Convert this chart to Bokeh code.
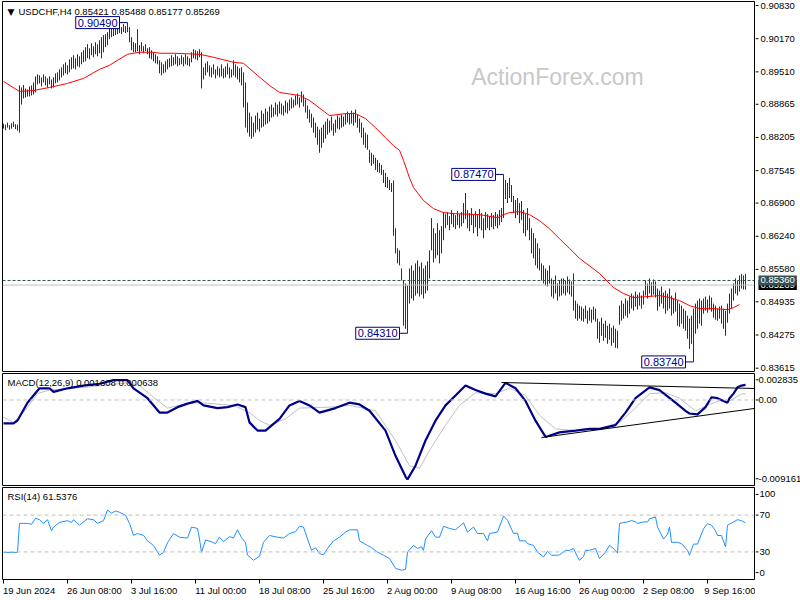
from bokeh.plotting import figure
from bokeh.models import Range1d, FixedTicker, Label, Span, ColumnDataSource
from bokeh.layouts import column, row
from bokeh.core.properties import value
from bokeh.embed import file_html
from bokeh.resources import INLINE

# ---------------- data (USDCHF H4, one entry per bar) ----------------
BAR_HIGH = [
    .8848, .8846, .8850, .8845, .8849, .8852, .8847, .8846, .8924, .8920,
    .8925, .8918, .8916, .8922, .8924, .8930, .8942, .8946, .8944, .8940,
    .8946, .8942, .8938, .8942, .8936, .8940, .8948, .8950, .8956, .8960,
    .8966, .8970, .8964, .8976, .8980, .8984, .8978, .8986, .8982, .8990,
    .8994, .9000, .9006, .8998, .9008, .9002, .9010, .9006, .9014, .9020,
    .9024, .9026, .9030, .9040, .9044, .9038, .9046, .9042, .9044, .9040,
    .9046, .9042, .9049, .9040, .9020, .9010, .9008, .9036, .9004, .9010,
    .9002, .9006, .8998, .9000, .8994, .8990, .8986, .8982, .8974, .8970,
    .8966, .8972, .8976, .8978, .8984, .8980, .8986, .8982, .8978, .8984,
    .8980, .8986, .8982, .8978, .8990, .8996, .8994, .8992, .8996, .8990,
    .8960, .8968, .8972, .8964, .8960, .8966, .8956, .8962, .8958, .8966,
    .8958, .8962, .8968, .8960, .8956, .8974, .8966, .8962, .8958, .8960,
    .8950, .8930, .8890, .8870, .8862, .8850, .8864, .8870, .8858, .8874,
    .8868, .8878, .8872, .8882, .8886, .8880, .8890, .8886, .8892, .8888,
    .8884, .8894, .8890, .8896, .8900, .8896, .8904, .8908, .8900, .8912,
    .8906, .8896, .8884, .8876, .8868, .8860, .8850, .8842, .8836, .8840,
    .8846, .8852, .8858, .8854, .8862, .8848, .8856, .8864, .8860, .8866,
    .8862, .8868, .8872, .8868, .8874, .8870, .8876, .8866, .8858, .8850,
    .8840, .8830, .8826, .8796, .8790, .8786, .8780, .8776, .8770, .8766,
    .8756, .8750, .8742, .8736, .8730, .8735, .8640, .8600, .8596, .8560,
    .8536, .8530, .8526, .8560, .8566, .8556, .8570, .8576, .8564, .8572,
    .8560, .8566, .8574, .8596, .8660, .8640, .8630, .8650, .8636, .8644,
    .8672, .8668, .8672, .8664, .8676, .8670, .8666, .8674, .8668, .8672,
    .8690, .8710, .8676, .8670, .8680, .8668, .8674, .8666, .8678, .8670,
    .8660, .8672, .8668, .8664, .8670, .8666, .8672, .8668, .8676, .8680,
    .8747, .8736, .8730, .8740, .8726, .8704, .8696, .8700, .8690, .8694,
    .8676, .8668, .8680, .8660, .8640, .8630, .8620, .8610, .8600, .8570,
    .8566, .8560, .8556, .8566, .8540, .8536, .8546, .8530, .8536, .8540,
    .8540, .8536, .8544, .8538, .8534, .8550, .8496, .8490, .8486, .8484,
    .8480, .8486, .8476, .8482, .8478, .8484, .8480, .8460, .8454, .8462,
    .8450, .8456, .8446, .8450, .8442, .8446, .8440, .8436, .8486, .8496,
    .8490, .8500, .8496, .8504, .8510, .8506, .8514, .8508, .8512, .8506,
    .8516, .8536, .8530, .8540, .8532, .8538, .8534, .8520, .8516, .8524,
    .8512, .8516, .8510, .8520, .8506, .8500, .8512, .8496, .8490, .8486,
    .8480, .8476, .8466, .8460, .8466, .8480, .8490, .8496, .8500, .8496,
    .8500, .8504, .8498, .8506, .8502, .8490, .8486, .8480, .8484, .8486,
    .8480, .8476, .8490, .8510, .8520, .8530, .8540, .8536, .8546, .85488,
    .8546, .85488,
]
BAR_LOW = [
    .8838, .8835, .8840, .8836, .8838, .8841, .8837, .8834, .8830, .8886,
    .8898, .8900, .8902, .8902, .8904, .8906, .8910, .8926, .8928, .8922,
    .8930, .8924, .8920, .8926, .8918, .8920, .8928, .8930, .8934, .8940,
    .8944, .8948, .8946, .8950, .8956, .8958, .8956, .8962, .8960, .8966,
    .8970, .8972, .8978, .8976, .8984, .8980, .8986, .8982, .8988, .8978,
    .8990, .9000, .9004, .9016, .9020, .9022, .9024, .9026, .9028, .9026,
    .9030, .9028, .9030, .9010, .8994, .8990, .8990, .8992, .8986, .8992,
    .8988, .8992, .8986, .8978, .8976, .8972, .8968, .8966, .8948, .8944,
    .8948, .8950, .8956, .8960, .8962, .8964, .8966, .8962, .8964, .8966,
    .8962, .8966, .8964, .8962, .8970, .8978, .8976, .8974, .8980, .8918,
    .8936, .8944, .8950, .8942, .8940, .8946, .8938, .8944, .8940, .8942,
    .8938, .8940, .8946, .8938, .8940, .8944, .8940, .8936, .8930, .8924,
    .8880, .8840, .8830, .8822, .8818, .8822, .8830, .8836, .8832, .8840,
    .8842, .8846, .8848, .8852, .8860, .8862, .8866, .8862, .8868, .8866,
    .8864, .8870, .8868, .8874, .8878, .8880, .8884, .8886, .8880, .8890,
    .8882, .8870, .8858, .8850, .8840, .8830, .8820, .8806, .8790, .8800,
    .8810, .8818, .8826, .8830, .8834, .8824, .8830, .8838, .8836, .8840,
    .8842, .8846, .8850, .8846, .8848, .8844, .8850, .8840, .8830, .8820,
    .8806, .8800, .8796, .8770, .8764, .8768, .8756, .8752, .8750, .8746,
    .8730, .8722, .8720, .8716, .8712, .8625, .8590, .8570, .8566, .8536,
    .8446, .8440, .8431, .8490, .8500, .8496, .8506, .8510, .8504, .8508,
    .8500, .8510, .8516, .8540, .8596, .8572, .8580, .8586, .8570, .8590,
    .8616, .8640, .8646, .8636, .8648, .8642, .8638, .8646, .8640, .8644,
    .8650, .8658, .8640, .8634, .8646, .8630, .8642, .8624, .8640, .8636,
    .8620, .8636, .8640, .8636, .8642, .8638, .8644, .8640, .8646, .8652,
    .8660, .8698, .8690, .8700, .8692, .8670, .8660, .8666, .8650, .8656,
    .8630, .8624, .8636, .8616, .8590, .8580, .8566, .8560, .8556, .8536,
    .8530, .8526, .8524, .8530, .8504, .8500, .8510, .8496, .8504, .8506,
    .8510, .8506, .8512, .8508, .8504, .8476, .8460, .8456, .8460, .8456,
    .8454, .8460, .8450, .8456, .8452, .8458, .8454, .8420, .8412, .8426,
    .8416, .8422, .8410, .8418, .8406, .8412, .8402, .8401, .8448, .8456,
    .8460, .8466, .8462, .8470, .8480, .8476, .8484, .8478, .8486, .8480,
    .8488, .8506, .8500, .8510, .8504, .8508, .8502, .8476, .8484, .8490,
    .8480, .8470, .8476, .8480, .8466, .8470, .8474, .8446, .8444, .8450,
    .8440, .8436, .8420, .8400, .8410, .8374, .8430, .8440, .8450, .8446,
    .8470, .8476, .8472, .8478, .8474, .8462, .8458, .8456, .8460, .8450,
    .8440, .8426, .8452, .8470, .8480, .8496, .8510, .8506, .8514, .8520,
    .8518, .85177,
]

# moving average (red) : (bar index, price)
MA_POINTS = [
    (0, .8932), (8, .8912), (15, .8914), (23, .8920), (32, .8928), (40, .8938),
    (48, .8956), (53, .8964), (57, .8974), (62, .8986), (68, .8990), (75, .8990),
    (78, .8988), (85, .8988), (98, .8986), (105, .8980), (115, .8970), (120, .8968),
    (127, .8944), (133, .8924), (138, .8910), (148, .8904), (153, .8894), (163, .8864),
    (171, .8868), (176, .8868), (181, .8858), (186, .8840), (191, .8820), (195, .8804),
    (198, .8795), (200, .8775), (203, .8740), (205, .8721), (210, .8695), (215, .8679),
    (220, .8671), (225, .8669), (238, .8667), (247, .8661), (250, .8667), (253, .8671),
    (258, .8673), (263, .8667), (268, .8655), (273, .8639), (278, .8619), (283, .8600),
    (288, .8580), (298, .8550), (305, .8522), (310, .8510), (315, .8502), (322, .8504),
    (328, .8506), (333, .8502), (338, .8496), (343, .8486), (348, .8480), (355, .8480),
    (362, .8478), (365, .8482), (368, .8488),
]

# MACD main line and signal, in units of 1e-4
MACD_POINTS = [
    (0, -25), (5, -25), (7, -22), (12, -3), (18, 12.5), (23, 12.5), (25, 8.7),
    (32, 12.5), (40, 15.4), (48, 17.4), (55, 21.2), (62, 21.2), (65, 12.5), (72, 1.9),
    (78, -13.5), (82, -13.5), (87, -7.7), (92, -3.9), (97, -1), (100, -5.8), (107, -8.7),
    (112, -7.7), (117, -4.8), (121, -7.7), (123, -24), (127, -32.8), (131, -32.8),
    (138, -20.3), (143, -5.8), (148, -1), (153, -5.8), (158, -13.5), (166, -8.7),
    (173, -2.9), (178, -4.8), (183, -11.6), (191, -32.8), (196, -59.8), (201, -82),
    (202, -85), (206, -70.4), (211, -43.4), (216, -22.2), (221, -5.8), (226, 4.8),
    (231, 15.4), (236, 10.6), (241, 6.8), (246, 3.9), (251, 18.3), (256, 12.5),
    (261, -1), (266, -22.2), (271, -39.6), (278, -34.7), (286, -32.8), (293, -30.9),
    (298, -30.9), (306, -27), (311, -13.5), (316, 1.9), (323, 13.5), (328, 10.6),
    (336, -2.9), (341, -11.6), (343, -14.5), (347, -15.4), (351, -7.7), (354, 2.9),
    (357, 1.9), (360, -1), (362, -2.9), (363, 1.9), (365, 6.8), (367, 13.5),
    (369, 15.4), (371, 16.1),
]
SIGNAL_POINTS = [
    (0, -18.3), (5, -24), (10, -13.5), (17, 6.8), (23, 10.6), (40, 13.5), (62, 18.3),
    (68, 15.4), (75, 2.9), (82, -8.7), (92, -3.9), (98, -2.9), (115, -5.8), (123, -13.5),
    (128, -22.2), (133, -27), (141, -20.3), (148, -8.7), (163, -7.7), (173, -5.8),
    (186, -11.6), (196, -43.4), (203, -70.4), (208, -73.3), (213, -54), (221, -27),
    (228, -5.8), (236, 7.7), (246, 6.8), (253, 12.5), (261, 4.8), (268, -16.4),
    (276, -30.9), (286, -32.8), (298, -30.9), (308, -24), (316, -8.7), (323, 6.8),
    (331, 7.7), (338, 1.9), (346, -11.6), (353, -4.8), (358, -1), (363, -1),
    (369, 6.4), (371, 6.4),
]
# MACD trend lines: start/end bar index and value (1e-4)
TREND_X0 = [249, 269]
TREND_Y0 = [18.7, -40.2]
TREND_X1 = [375.5, 375.5]
TREND_Y1 = [12.3, -9.1]

RSI_POINTS = [
    (0, 29.5), (7, 29.5), (8, 61), (10, 61), (12, 61), (14, 60), (16, 66.5), (18, 65),
    (20, 61), (22, 65), (24, 53), (25, 57), (28, 62), (32, 64), (34, 62), (35, 65),
    (38, 59), (42, 66), (45, 65), (47, 61), (50, 64), (52, 75.5), (54, 72), (56, 74.6),
    (58, 73), (61, 70), (63, 61), (65, 48), (67, 50), (70, 48), (72, 42), (75, 37),
    (78, 26.5), (80, 29.5), (82, 40), (85, 50), (88, 46), (92, 45), (94, 57), (97, 55.5),
    (98, 44), (99, 29.5), (101, 43), (104, 41), (106, 39), (108, 46), (110, 41),
    (113, 46.7), (115, 45), (117, 54), (119, 45.5), (121, 40), (122, 26.5), (125, 21),
    (128, 25.3), (130, 40.4), (133, 47.8), (137, 46), (140, 45), (143, 50), (146, 52),
    (148, 57.8), (150, 57), (152, 44), (154, 31.7), (156, 34.6), (158, 28.2), (160, 26.8),
    (162, 33.7), (165, 42), (168, 46), (171, 51.5), (173, 54), (177, 54), (178, 42),
    (182, 37), (184, 34.6), (187, 29.8), (190, 26.4), (193, 22.9), (196, 12.1),
    (199, 10.1), (201, 11), (202, 29.8), (205, 37), (207, 33.7), (209, 35.6), (210, 31.7),
    (211, 44), (214, 53), (216, 46), (218, 46), (220, 57.8), (223, 55.5), (226, 54),
    (227, 56), (230, 61.5), (232, 51.5), (235, 57), (237, 50), (240, 50), (242, 42),
    (243, 50), (247, 51.5), (250, 69), (252, 64.4), (255, 50), (257, 50.5), (258, 42),
    (261, 42), (262, 39), (265, 37), (267, 29.8), (270, 24.5), (272, 30.7), (274, 26.4),
    (277, 26.4), (278, 26.8), (281, 31.7), (283, 31.7), (285, 33.7), (287, 24.5),
    (288, 20.9), (290, 24.9), (291, 31.7), (293, 31.7), (296, 33.7), (298, 22.7),
    (301, 29.8), (303, 37), (305, 33.7), (307, 28.8), (308, 61), (312, 62.6), (314, 64),
    (316, 62.6), (317, 61), (320, 62.6), (322, 62.6), (323, 66), (326, 68), (327, 57),
    (330, 44), (332, 49), (333, 57), (334, 40.4), (337, 40.4), (339, 38.9), (342, 31.7),
    (343, 26.4), (345, 38.5), (347, 38.5), (350, 55), (352, 60.7), (354, 59), (356, 53),
    (357, 47.8), (359, 47.8), (361, 35.5), (362, 59), (365, 62.6), (367, 65), (369, 64),
    (371, 61.5),
]

# marked extremes
EXT_IDX = [62, 202, 250, 345]
EXT_PRICE = [0.90490, 0.84310, 0.87470, 0.83740]
EXT_TEXT = ["0.90490", "0.84310", "0.87470", "0.83740"]

LAST_BID = 0.85269
LINE_LEVEL = 0.85360
HEADER_TEXT = "USDCHF,H4  0.85421 0.85488 0.85177 0.85269"
MACD_TEXT = "MACD(12,26,9) 0.001608 0.000638"
RSI_TEXT = "RSI(14) 61.5376"
WATERMARK = "ActionForex.com"

PRICE_TICKS = [0.90830, 0.90170, 0.89510, 0.88865, 0.88205, 0.87545,
               0.86900, 0.86240, 0.85580, 0.84935, 0.84275, 0.83615]
MACD_MAX, MACD_MIN = 0.002835, -0.009161
MACD_TICKS = [0.00216, 0.0, -0.00844]
MACD_TICK_LABELS = ["0.002835", "0.00", "-0.009161"]
RSI_TICKS = [92.5, 70, 30, 7.5]
RSI_TICK_LABELS = ["100", "70", "30", "0"]
RSI_LEVELS = [70, 30]
DATE_TICK_IDX = [0, 32, 64, 96, 128, 160, 192, 224, 256, 288, 320, 352]
DATE_LABELS = ["19 Jun 2024", "26 Jun 08:00", "3 Jul 16:00", "11 Jul 00:00",
               "18 Jul 08:00", "25 Jul 16:00", "2 Aug 00:00", "9 Aug 08:00",
               "16 Aug 16:00", "26 Aug 00:00", "2 Sep 08:00", "9 Sep 16:00"]

# ---------------- styling ----------------
FONT = "Liberation Sans"
FS = "9.5px"
FS_PX = 9.5
BAR_COLOR = "#163552"
XR = Range1d(-0.5, 375.5)          # 2 px per bar over a 752 px frame
SIDE_W = 45
# Arial / Liberation Sans advance widths (em) used to centre the date labels
EM = {c: .556 for c in "0123456789JunAgSep"}
EM.update({" ": .278, ":": .278, "l": .222, "J": .5, "A": .667, "S": .667})


def main_fig(height, y_range, top, bottom, x_axis=False):
    p = figure(width=755, height=height, x_range=XR, y_range=y_range,
               min_border_left=2, min_border_right=1,
               min_border_top=top, min_border_bottom=bottom,
               toolbar_location=None, tools="", output_backend="svg",
               y_axis_location=None,
               x_axis_location="below" if x_axis else None)
    p.grid.visible = False
    p.outline_line_color = "black"
    p.outline_line_width = 1
    p.background_fill_color = "white"
    p.border_fill_color = "white"
    return p


def side_scale(height, y_range, top, bottom, ticks, labels, text_x):
    s = figure(width=SIDE_W, height=height, x_range=Range1d(0, SIDE_W), y_range=y_range,
               min_border_left=0, min_border_right=0,
               min_border_top=top, min_border_bottom=bottom,
               toolbar_location=None, tools="", output_backend="svg",
               x_axis_location=None, y_axis_location=None)
    s.grid.visible = False
    s.outline_line_color = None
    s.background_fill_color = "white"
    s.border_fill_color = "white"
    s.segment(x0=[0] * len(ticks), x1=[3] * len(ticks), y0=ticks, y1=ticks,
              line_color="black", line_width=1)
    s.text(x=[text_x] * len(ticks), y=ticks, text=labels, text_font=value(FONT),
           text_font_size=value(FS), text_color="black", text_baseline="middle",
           text_align="left")
    return s


# ---------- price panel ----------
px_per = (PRICE_TICKS[0] - PRICE_TICKS[-1]) / 362.7
price_range = Range1d(PRICE_TICKS[-1] - 3.3 * px_per, PRICE_TICKS[0] + 4 * px_per)
p1 = main_fig(372, price_range, 1, 1)

bars = ColumnDataSource(dict(i=list(range(len(BAR_HIGH))), high=BAR_HIGH, low=BAR_LOW))
p1.segment(x0="i", y0="low", x1="i", y1="high", source=bars, line_color=BAR_COLOR, line_width=1)

p1.line([m[0] for m in MA_POINTS], [m[1] for m in MA_POINTS], line_color="#ff0000", line_width=1)

p1.add_layout(Span(location=LAST_BID, dimension="width", line_color="#c0c0c0", line_width=1))
p1.add_layout(Span(location=LINE_LEVEL, dimension="width", line_color="#2f4f4f",
                   line_width=1, line_dash="3 2"))

p1.segment(x0=[i - 5 for i in EXT_IDX], y0=EXT_PRICE, x1=EXT_IDX, y1=EXT_PRICE,
           line_color="#000080", line_width=1)
for i, pr, t in zip(EXT_IDX, EXT_PRICE, EXT_TEXT):
    p1.add_layout(Label(x=i, y=pr, x_offset=-8, text=t, text_align="right",
                        text_baseline="middle", text_font=FONT, text_font_size="11px",
                        text_color="#00008b", background_fill_color="white",
                        border_line_color="#000080", border_line_width=1, padding=2))

p1.add_layout(Label(x=5, y=360, x_units="screen", y_units="screen", text="▼",
                    text_font="DejaVu Sans", text_font_size="9px", text_color="black",
                    text_baseline="middle"))
p1.add_layout(Label(x=16, y=360.5, x_units="screen", y_units="screen", text=HEADER_TEXT,
                    text_font=FONT, text_font_size=FS, text_color="black",
                    text_baseline="middle"))
p1.add_layout(Label(x=555, y=295, x_units="screen", y_units="screen", text=WATERMARK,
                    text_font=FONT, text_font_size="23px", text_color="#c8c8c8",
                    text_align="center", text_baseline="middle"))

s1 = side_scale(372, price_range, 1, 1, PRICE_TICKS, [f"{t:.5f}" for t in PRICE_TICKS], 5)
# current price boxes on the scale
s1.add_layout(Label(x=3, y=LAST_BID, text=f"{LAST_BID:.5f}",
                    text_font=FONT, text_font_size=FS, text_color="white",
                    text_baseline="middle", background_fill_color="black", padding=2))
s1.add_layout(Label(x=3, y=LINE_LEVEL, text=f"{LINE_LEVEL:.5f}",
                    text_font=FONT, text_font_size=FS, text_color="white",
                    text_baseline="middle", background_fill_color="#35504f", padding=2))

# ---------- MACD panel ----------
macd_range = Range1d(MACD_MIN, MACD_MAX)
p2 = main_fig(114, macd_range, 1, 1)
p2.add_layout(Span(location=0.0, dimension="width", line_color="#c0c0c0",
                   line_width=1, line_dash="4 3"))
p2.line([s[0] for s in SIGNAL_POINTS], [s[1] / 1e4 for s in SIGNAL_POINTS],
        line_color="#c0c0c0", line_width=1)
p2.line([m[0] for m in MACD_POINTS], [m[1] / 1e4 for m in MACD_POINTS],
        line_color="#00008b", line_width=2.2)
p2.segment(x0=TREND_X0, y0=[v / 1e4 for v in TREND_Y0], x1=TREND_X1,
           y1=[v / 1e4 for v in TREND_Y1], line_color="black", line_width=1)
p2.add_layout(Label(x=5, y=103.5, x_units="screen", y_units="screen", text=MACD_TEXT,
                    text_font=FONT, text_font_size=FS, text_color="black",
                    text_baseline="middle"))
s2 = side_scale(114, macd_range, 1, 1, MACD_TICKS, MACD_TICK_LABELS, 3)

# ---------- RSI panel ----------
rsi_range = Range1d(0, 100)
p3 = main_fig(114, rsi_range, 1, 21, x_axis=True)
for lv in RSI_LEVELS:
    p3.add_layout(Span(location=lv, dimension="width", line_color="#c0c0c0",
                       line_width=1, line_dash="4 3"))
p3.line([r[0] for r in RSI_POINTS], [r[1] for r in RSI_POINTS],
        line_color="#1e90ff", line_width=1)
p3.add_layout(Label(x=5, y=83, x_units="screen", y_units="screen", text=RSI_TEXT,
                    text_font=FONT, text_font_size=FS, text_color="black",
                    text_baseline="middle"))
s3 = side_scale(114, rsi_range, 1, 21, RSI_TICKS, RSI_TICK_LABELS, 4)

# date axis: tick marks (minor ticks) at the bars, labels start at their tick
label_centres = [t + sum(EM.get(c, .556) for c in lab) * FS_PX / 4.0 - 0.3
                 for t, lab in zip(DATE_TICK_IDX, DATE_LABELS)]
xa = p3.xaxis[0]
xa.ticker = FixedTicker(ticks=label_centres, minor_ticks=DATE_TICK_IDX)
xa.major_label_overrides = dict(zip(label_centres, DATE_LABELS))
xa.axis_line_color = None
xa.major_tick_line_color = None
xa.major_tick_out = 4
xa.major_tick_in = 0
xa.minor_tick_out = 4
xa.minor_tick_in = 0
xa.minor_tick_line_color = "black"
xa.major_label_standoff = 1
xa.major_label_text_font = FONT
xa.major_label_text_font_size = FS
xa.major_label_text_color = "black"

layout = column(row(p1, s1, spacing=0), row(p2, s2, spacing=0), row(p3, s3, spacing=0),
                spacing=0)
html = file_html(layout, INLINE)
html = html.replace("<body>", '<body style="margin:0;overflow:hidden">', 1)
open("out.html", "w").write(html)
